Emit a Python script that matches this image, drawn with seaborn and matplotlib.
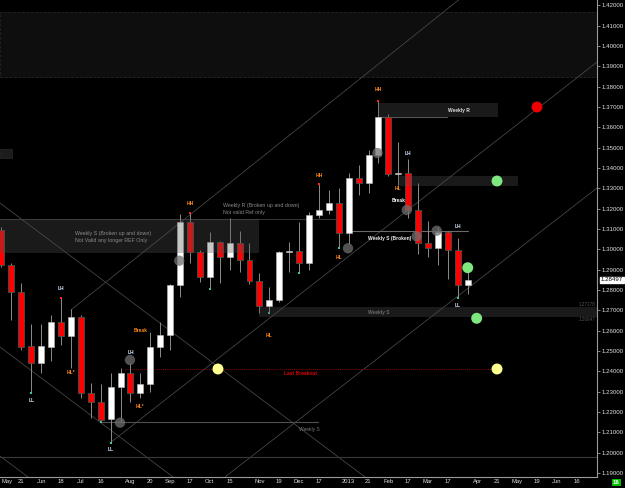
import matplotlib
matplotlib.use("Agg")
import matplotlib.pyplot as plt
from matplotlib.patches import Rectangle
import matplotlib.transforms as mtransforms
import seaborn as sns
import pandas as pd
import numpy as np

# -----------------------------
# DATA (weekly candles, May 2012 - Mar 2013)
# -----------------------------
opens = [1.30951, 1.29229, 1.27916, 1.25245, 1.24394, 1.25211, 1.26440, 1.25752, 1.26686, 1.22918,
         1.22505, 1.21640, 1.23243, 1.23932, 1.22948, 1.23361, 1.25181, 1.25786, 1.28246, 1.31359,
         1.29854, 1.28624, 1.30375, 1.29638, 1.30297, 1.29475, 1.28418, 1.27213, 1.27483, 1.29844,
         1.29933, 1.29342, 1.31689, 1.31935, 1.32279, 1.30789, 1.33494, 1.33238, 1.34640, 1.36494,
         1.33705, 1.33730, 1.31935, 1.30297, 1.30080, 1.30867, 1.29967, 1.28246]
highs = [1.31098, 1.29328, 1.28329, 1.26312, 1.26312, 1.26770, 1.27591, 1.27050, 1.26770, 1.23410,
         1.23361, 1.23932, 1.24163, 1.24394, 1.23902, 1.25948, 1.26440, 1.28295, 1.31738, 1.31802,
         1.29967, 1.30838, 1.30434, 1.31526, 1.30916, 1.30297, 1.28821, 1.28123, 1.29918, 1.30361,
         1.31359, 1.31836, 1.33228, 1.32918, 1.33041, 1.33740, 1.34148, 1.34886, 1.37296, 1.36657,
         1.35265, 1.34443, 1.33248, 1.31394, 1.31113, 1.30902, 1.30572, 1.28934]
lows = [1.29131, 1.26524, 1.25048, 1.22918, 1.23932, 1.24522, 1.25294, 1.24148, 1.22673, 1.21689,
        1.21522, 1.20489, 1.21522, 1.22505, 1.22673, 1.22997, 1.24719, 1.25048, 1.27641, 1.29313,
        1.28408, 1.28034, 1.28359, 1.28983, 1.28900, 1.28295, 1.26868, 1.26868, 1.27424, 1.28900,
        1.28821, 1.28959, 1.31556, 1.31753, 1.30051, 1.30262, 1.32672, 1.32756, 1.34232, 1.33622,
        1.33164, 1.31526, 1.29756, 1.29638, 1.29229, 1.28541, 1.27591, 1.27803]
closes = [1.29229, 1.27916, 1.25211, 1.24394, 1.25245, 1.26440, 1.25752, 1.26686, 1.22918, 1.22505,
          1.21605, 1.23243, 1.23932, 1.22948, 1.23361, 1.25181, 1.25786, 1.28246, 1.31359, 1.29854,
          1.28624, 1.30375, 1.29638, 1.30297, 1.29475, 1.28418, 1.27213, 1.27483, 1.29844, 1.29933,
          1.29342, 1.31689, 1.31935, 1.32279, 1.30789, 1.33494, 1.33238, 1.34640, 1.36494, 1.33691,
          1.33725, 1.31935, 1.30297, 1.30080, 1.30867, 1.29967, 1.28246, 1.28497]

date_pos = [0, 2, 4, 6, 8, 10, 13, 15, 17, 19, 21, 23, 26, 28, 30, 32, 35, 37, 39, 41, 43, 45,
            48, 50, 52, 54, 56, 58]
date_labels = ["May", "21", "Jun", "18", "Jul", "16", "Aug", "20", "Sep", "17", "Oct", "15",
               "Nov", "19", "Dec", "17", "2013", "21", "Feb", "17", "Mar", "17", "Apr", "21",
               "May", "19", "Jun", "16"]
price_ticks = [1.19, 1.20, 1.21, 1.22, 1.23, 1.24, 1.25, 1.26, 1.27, 1.28, 1.29, 1.30, 1.31,
               1.32, 1.33, 1.34, 1.35, 1.36, 1.37, 1.38, 1.39, 1.40, 1.41, 1.42]

# support / resistance zones: x0, x1, low, high
zone_x0 = [-0.2, -0.2, -0.2, 37.98, 39.97, 25.99]
zone_x1 = [60.1, 1.03, 25.99, 50.02, 52.07, 60.1]
zone_lo = [1.38462, 1.34507, 1.29819, 1.36524, 1.33130, 1.26647]
zone_hi = [1.41659, 1.34920, 1.31477, 1.37213, 1.33622, 1.27178]

# horizontal levels: x0, x1, price
level_x0 = [-0.2, 37.98, 35.13, 9.93, -0.2]
level_x1 = [33.6, 44.9, 47.0, 31.94, 60.1]
level_p = [1.31477, 1.36524, 1.30916, 1.21507, 1.19785]
breakout_x = [12.45, 49.95]
breakout_p = 1.24099

# trend lines: (x0, p0) -> (x1, p1)
trend_x0 = [-0.151, -0.151, -0.151, 7.006, 10.94, 22.53]
trend_p0 = [1.32279, 1.25196, 1.19834, 1.27016, 1.20474, 1.18801]
trend_x1 = [36.64, 17.29, 2.67, 46.07, 60.03, 60.03]
trend_p1 = [1.18801, 1.18801, 1.18801, 1.42264, 1.39214, 1.33017]

# pivot markers
grey_x = [11.95, 12.95, 17.92, 34.93, 37.90, 40.85, 41.85, 43.87]
grey_p = [1.21472, 1.24556, 1.29440, 1.30051, 1.34738, 1.31935, 1.30641, 1.30916]
dot_x = [53.98, 49.95, 47.0, 47.90, 21.82, 49.95]
dot_p = [1.37001, 1.33361, 1.29096, 1.26608, 1.24114, 1.24114]
dot_kind = ["red", "green", "green", "green", "yellow", "yellow"]

# swing labels
swing_text = ["LL", "LH", "HL*", "LL", "LH", "Break", "HL*", "HH", "HL", "HH", "HL", "HH",
              "HL", "LH", "Break", "LH", "LL"]
swing_x = [3, 6, 7, 11, 13, 14, 14, 19, 27, 32, 34, 38, 40, 41, 40, 46, 46]
swing_p = [1.22566, 1.28049, 1.23931, 1.20164, 1.24913, 1.25997, 1.22283, 1.32265, 1.25749,
           1.33621, 1.29607, 1.37885, 1.32968, 1.34689, 1.32378, 1.31113, 1.27213]
swing_col = ["#d8ecff", "#d8ecff", "#ff8a1e", "#d8ecff", "#d8ecff", "#ff8a1e", "#ff8a1e",
             "#ff8a1e", "#ff8a1e", "#ff8a1e", "#ff8a1e", "#ff8a1e", "#ff8a1e", "#d8ecff",
             "#ffffff", "#d8ecff", "#d8ecff"]

red_tips = [6, 19, 32, 38]
teal_tips = [3, 10, 11, 21, 27, 30, 34, 46]

df = pd.DataFrame({"open": opens, "high": highs, "low": lows, "close": closes})
df["bar"] = np.arange(len(df))
df["bull"] = df["close"] >= df["open"]

# -----------------------------
# FIGURE
# -----------------------------
sns.set_theme(style="dark", rc={"axes.facecolor": "black", "figure.facecolor": "black"})
plt.rcParams["font.family"] = ["Liberation Sans", "DejaVu Sans"]

fig = plt.figure(figsize=(6.25, 4.88), dpi=100)
ax = fig.add_axes([0, 11 / 488, 597 / 625, 477 / 488])
ax.set_facecolor("black")
ax.set_xlim(-0.15, 60.03)
ax.set_ylim(1.18801, 1.42264)

# top band (behind everything)
ax.add_patch(Rectangle((zone_x0[0], zone_lo[0]), zone_x1[0] - zone_x0[0], zone_hi[0] - zone_lo[0],
                       facecolor="#0e0e0e", edgecolor="#262626", linestyle="--", lw=0.6, zorder=0))
ax.add_patch(Rectangle((zone_x0[1], zone_lo[1]), zone_x1[1] - zone_x0[1], zone_hi[1] - zone_lo[1],
                       facecolor="#1c1c1c", edgecolor="#2a2a2a", lw=0.5, zorder=0))

# trend lines
for x0, p0, x1, p1 in zip(trend_x0, trend_p0, trend_x1, trend_p1):
    ax.plot([x0, x1], [p0, p1], color="#4a4a4a", lw=0.55, zorder=1)

# horizontal levels
lvl_cols = ["#333333", "#555555", "#6a6a6a", "#505050", "#383838"]
for x0, x1, p, c in zip(level_x0, level_x1, level_p, lvl_cols):
    ax.plot([x0, x1], [p, p], color=c, lw=0.8, zorder=1)
ax.plot(breakout_x, [breakout_p, breakout_p], color="#c00000", lw=0.6, ls=(0, (1, 1.5)), zorder=1)

# candles
ax.vlines(df["bar"], df["low"], df["high"], color="#8c8c8c", lw=0.7, zorder=2)
body_lo = np.minimum(df["open"], df["close"])
body_h = np.maximum(np.abs(df["close"] - df["open"]), 0.0004)
ax.bar(df["bar"][df["bull"]], body_h[df["bull"]], bottom=body_lo[df["bull"]], width=0.6,
       color="white", edgecolor="#bbbbbb", lw=0.4, zorder=3)
ax.bar(df["bar"][~df["bull"]], body_h[~df["bull"]], bottom=body_lo[~df["bull"]], width=0.6,
       color="#ff0000", edgecolor="#3d6060", lw=0.5, zorder=3)

# wick tips
ax.scatter(df["bar"][red_tips], df["high"][red_tips], s=1.2, color="#ff2020", marker="s", lw=0, zorder=4)
ax.scatter(df["bar"][teal_tips], df["low"][teal_tips], s=1.2, color="#40c0a0", marker="s", lw=0, zorder=4)

# translucent zones above candles
for x0, x1, lo, hi in zip(zone_x0[2:], zone_x1[2:], zone_lo[2:], zone_hi[2:]):
    ax.add_patch(Rectangle((x0, lo), x1 - x0, hi - lo, facecolor="#515151", alpha=0.32,
                           edgecolor="none", zorder=5))

# pivot markers
sns.scatterplot(x=grey_x, y=grey_p, s=55, color="#6e6e6e", alpha=0.75, edgecolor="none",
                ax=ax, zorder=6, legend=False)
dot_df = pd.DataFrame({"x": dot_x, "p": dot_p, "kind": dot_kind})
sns.scatterplot(data=dot_df, x="x", y="p", hue="kind", s=62, edgecolor="none", ax=ax, zorder=7,
                palette={"red": "#ee0000", "green": "#7ee87e", "yellow": "#ffff90"}, legend=False)

# swing labels
for t, x, p, c in zip(swing_text, swing_x, swing_p, swing_col):
    ax.text(x, p, t, color=c, fontsize=3.5, fontweight="bold", ha="center", va="center", zorder=8)

# zone texts
ax.text(7.44, 1.30754, "Weekly S (Broken up and down)", color="#8a8a8a", fontsize=3.8, va="center", zorder=8)
ax.text(7.44, 1.30410, "Not Valid any longer REF Only", color="#8a8a8a", fontsize=3.8, va="center", zorder=8)
ax.text(22.36, 1.32146, "Weekly R (Broken up and down)", color="#8a8a8a", fontsize=3.8, va="center", zorder=8)
ax.text(22.36, 1.31822, "Not valid Ref only", color="#8a8a8a", fontsize=3.8, va="center", zorder=8)
ax.text(44.98, 1.36853, "Weekly R", color="#dddddd", fontsize=3.5, fontweight="bold", va="center", zorder=8)
ax.text(36.98, 1.30508, "Weekly S (Broken)", color="#eeeeee", fontsize=3.5, fontweight="bold", va="center", zorder=8)
ax.text(36.98, 1.26903, "Weekly S", color="#6a6a6a", fontsize=3.5, fontweight="bold", va="center", zorder=8)
ax.text(29.99, 1.21113, "Weekly S", color="#7a7a7a", fontsize=3.5, va="center", zorder=8)
ax.text(28.51, 1.23868, "Last Breakout", color="#e00000", fontsize=3.5, fontweight="bold", va="center", zorder=8)
ax.text(59.9, zone_hi[5] + 0.0009, "1.27178", color="#555555", fontsize=3.3, ha="right", va="center", zorder=8)
ax.text(59.9, zone_lo[5] - 0.0009, "1.26647", color="#555555", fontsize=3.3, ha="right", va="center", zorder=8)

# axes styling
for s in ["top", "left"]:
    ax.spines[s].set_visible(False)
for s in ["right", "bottom"]:
    ax.spines[s].set_color("#9a9a9a")
    ax.spines[s].set_linewidth(0.8)
ax.grid(False)
ax.yaxis.tick_right()
ax.set_yticks(price_ticks)
ax.set_yticklabels([f"{v:.5f}" for v in price_ticks])
ax.tick_params(axis="y", colors="#9a9a9a", labelcolor="#e0e0e0", labelsize=4.4, length=2, width=0.6, pad=1)
ax.set_xticks(date_pos)
ax.set_xticklabels(date_labels)
ax.tick_params(axis="x", colors="#9a9a9a", labelcolor="#e0e0e0", labelsize=4.2, length=0, pad=1.5)
ax.get_xticklabels()[0].set_ha("left")
ax.set_xlabel("")
ax.set_ylabel("")

# current price box
trans = mtransforms.blended_transform_factory(ax.transAxes, ax.transData)
ax.text(1.006, closes[-1], f"{closes[-1]:.5f}", transform=trans, color="black", fontsize=4.4,
        va="center", ha="left", bbox=dict(facecolor="white", edgecolor="white", pad=0.6), clip_on=False)

fig.text(0.992, 0.011, "16", color="white", fontsize=4.4, fontweight="bold", ha="right", va="center",
         bbox=dict(facecolor="#00bb00", edgecolor="none", pad=0.8))

plt.savefig("out.png", dpi=100, facecolor="black")
